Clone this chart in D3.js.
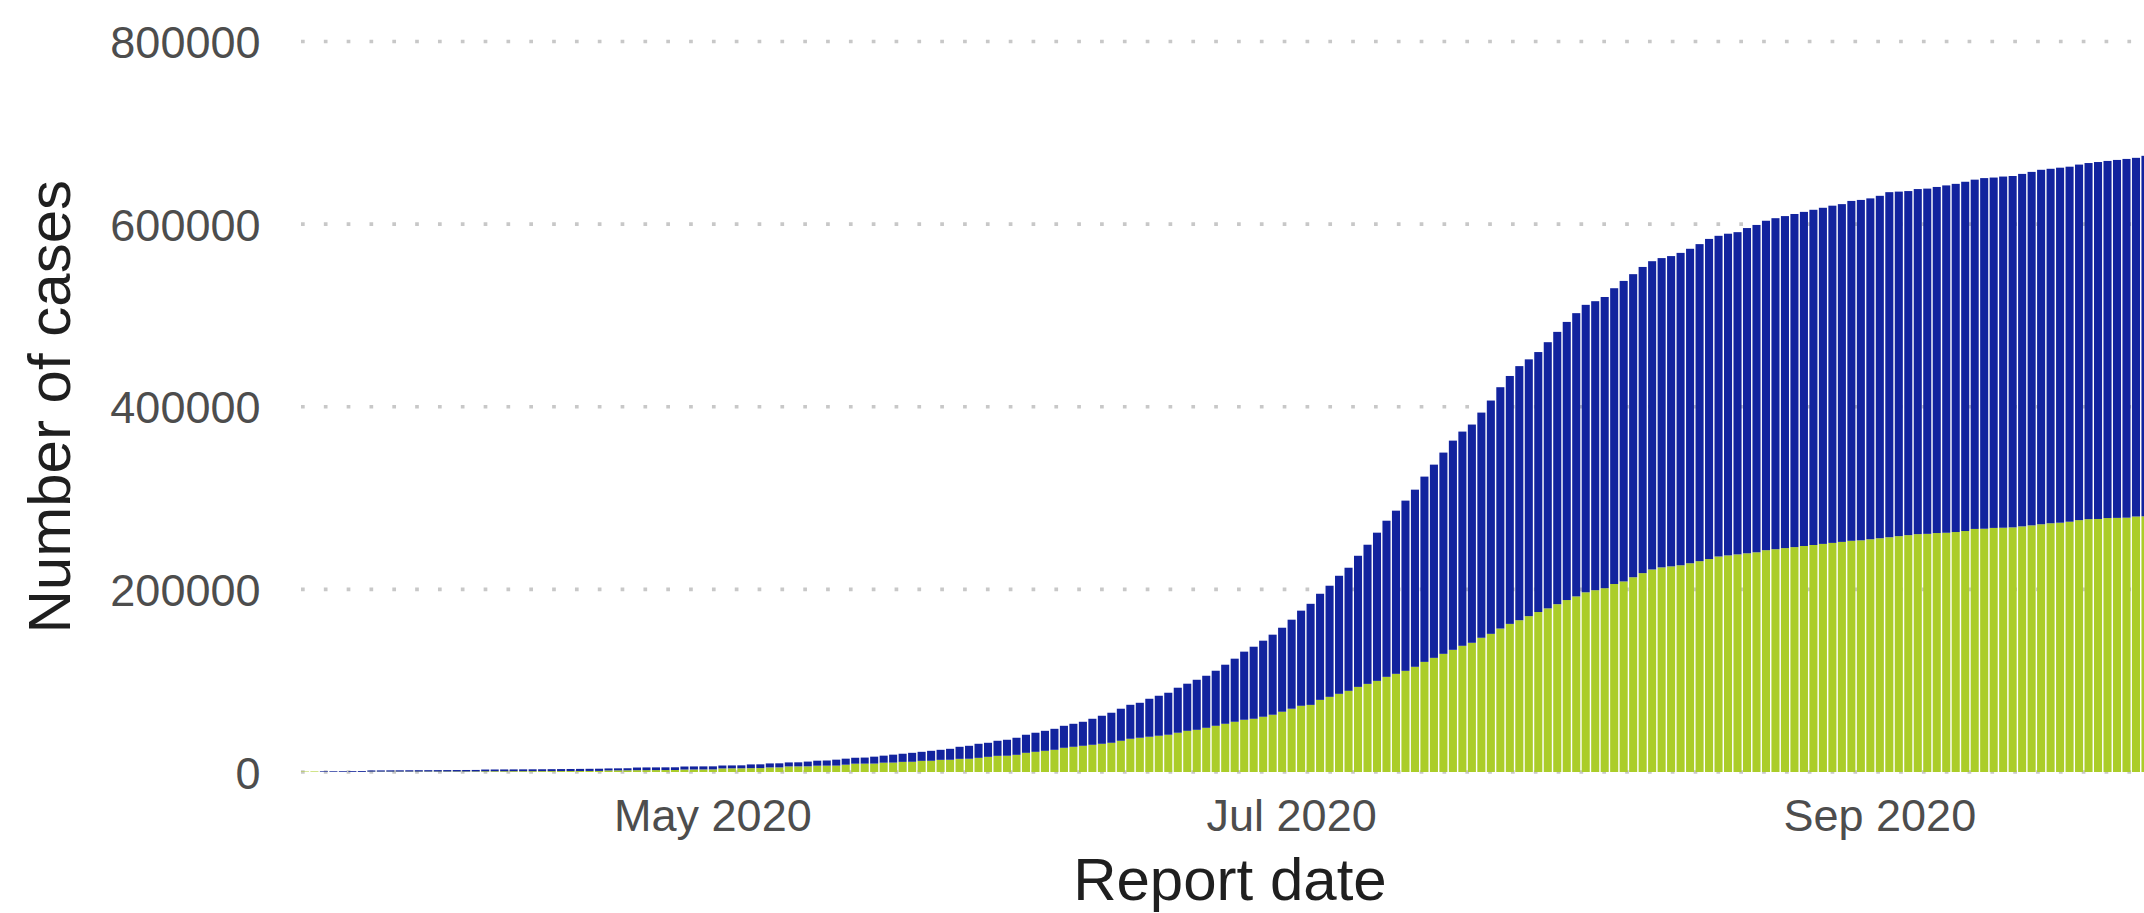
<!DOCTYPE html>
<html>
<head>
<meta charset="utf-8">
<script src="https://cdn.jsdelivr.net/npm/d3@7"></script>
<style>
  body { margin: 0; background: #ffffff; }
  svg { display: block; font-family: "Liberation Sans", Arial, sans-serif; }
</style>
</head>
<body>
<div id="chart"></div>
<script>
// report dates: one bar per day, 19 Mar 2020 .. 30 Sep 2020
const firstDay = "2020-03-19";
const lastDay = "2020-09-30";

// cumulative total cases (top of each stacked bar)
const totalCases = [
  500, 600, 800, 850, 900, 1000, 1100, 1700, 1750, 1800,
  1850, 1900, 1950, 2000, 2050, 2100, 2150, 2200, 2250, 2700,
  2750, 2800, 2850, 2900, 2950, 3000, 3100, 3200, 3300, 3400,
  3500, 3600, 3900, 4000, 4100, 4900, 5000, 5050, 5100, 5150,
  6000, 6100, 6150, 6200, 7100, 7200, 7300, 8300, 8400, 9400,
  9500, 10500, 10600, 11400, 12400, 12600, 13500, 14600, 15600, 15800,
  16800, 17900, 19000, 20000, 21000, 22100, 23200, 24300, 25400, 27600,
  28700, 30900, 32000, 34200, 35300, 37500, 40800, 43000, 45100, 47300,
  50600, 52800, 55000, 58300, 61600, 64900, 69300, 73600, 75800, 80200,
  83500, 86800, 92300, 96700, 101000, 105400, 110900, 117500, 124100, 131800,
  137200, 143800, 150400, 158000, 166800, 176700, 184200, 195200, 204000, 214900,
  223700, 236800, 248900, 262100, 275200, 286200, 297200, 309200, 323500, 336600,
  349800, 362900, 372800, 380500, 393600, 406800, 421400, 433700, 444500, 451900,
  459900, 470700, 482000, 492900, 502500, 511600, 515600, 520200, 529800, 537800,
  545200, 553100, 559400, 562800, 565000, 568500, 573000, 578100, 583800, 587200,
  589500, 591200, 595700, 599100, 603700, 606500, 608800, 611100, 613400, 615700,
  617900, 620200, 621900, 625400, 626500, 628200, 631000, 635000, 635600, 636200,
  638400, 638900, 640700, 642400, 644100, 646400, 648700, 650400, 651000, 652100,
  652700, 655000, 657200, 659500, 660600, 661800, 662900, 665200, 666900, 668000,
  669200, 670300, 671400, 672600, 674800, 676000
];

// lower (green) part of each bar
const greenCases = [
  500, 600, 100, 100, 100, 120, 150, 400, 420, 440,
  460, 480, 500, 520, 540, 560, 580, 600, 620, 800,
  830, 860, 890, 920, 950, 980, 1010, 1040, 1070, 1100,
  1150, 1200, 1700, 1800, 1850, 2000, 2050, 2100, 2150, 2200,
  2700, 2750, 2800, 2850, 3900, 4000, 4050, 4200, 4300, 5000,
  5050, 6100, 6150, 6200, 6900, 6950, 7000, 8000, 9100, 9150,
  9200, 10200, 10300, 11100, 11200, 12200, 12300, 13300, 13400, 14400,
  14500, 15500, 16600, 17700, 17800, 18800, 21000, 22100, 23200, 24300,
  26500, 27600, 28700, 29800, 30900, 32000, 34200, 36400, 37500, 38600,
  39700, 40800, 43000, 45100, 46200, 48400, 50600, 52800, 55000, 57200,
  58300, 60500, 62700, 66000, 69300, 72500, 73500, 79000, 82300, 85600,
  88900, 93200, 96500, 99800, 104200, 107500, 110800, 115200, 120600, 125000,
  129400, 133800, 138200, 141500, 147000, 151300, 157100, 162200, 166200, 170700,
  175200, 179200, 183800, 188300, 192300, 196800, 199100, 201300, 205900, 208700,
  213300, 217800, 221800, 224100, 225200, 226400, 228600, 230900, 233200, 236000,
  237200, 238300, 239500, 240600, 242900, 244000, 245200, 246300, 247500, 248600,
  249800, 250900, 252000, 253200, 253700, 254900, 256000, 257100, 258300, 259400,
  260500, 260800, 261700, 262000, 262800, 263900, 266200, 266400, 267300, 267500,
  267900, 269000, 270100, 271300, 272400, 273000, 274100, 275800, 276900, 277100,
  278100, 278300, 278500, 279800, 280000, 281000
];

const yTicks = [0, 200000, 400000, 600000, 800000];
const xTickDates = ["2020-05-01", "2020-07-01", "2020-09-01"];

const parseDay = d3.timeParse("%Y-%m-%d");
const fmtDay = d3.timeFormat("%Y-%m-%d");
const fmtMonth = d3.timeFormat("%b %Y");

const days = d3.timeDay.range(parseDay(firstDay), d3.timeDay.offset(parseDay(lastDay), 1)).map(fmtDay);

const rows = days.map((d, i) => ({
  day: d,
  green: greenCases[i],
  blue: totalCases[i] - greenCases[i]
}));

const width = 2144;
const height = 913;
const panel = { left: 300.2, right: 2159.7, top: 41.5, bottom: 772 };

const svg = d3.select("#chart").append("svg")
  .attr("width", width)
  .attr("height", height);

svg.append("rect").attr("width", width).attr("height", height).attr("fill", "#ffffff");

const x = d3.scaleBand()
  .domain(days)
  .range([panel.left, panel.right])
  .paddingInner(0.15)
  .paddingOuter(0.075);

const y = d3.scaleLinear()
  .domain([0, 800000])
  .range([panel.bottom, panel.top]);

// dotted horizontal grid
svg.append("g")
  .selectAll("line")
  .data(yTicks)
  .enter().append("line")
  .attr("x1", 301)
  .attr("x2", panel.right)
  .attr("y1", d => y(d))
  .attr("y2", d => y(d))
  .attr("stroke", "#c8c8c8")
  .attr("stroke-width", 3.7)
  .attr("stroke-dasharray", "3.7 19.13");

// stacked bars
const stacked = d3.stack().keys(["green", "blue"])(rows);
const colors = { green: "#abcd29", blue: "#12239e" };

svg.append("g")
  .selectAll("g")
  .data(stacked)
  .enter().append("g")
  .attr("fill", s => colors[s.key])
  .selectAll("rect")
  .data(s => s)
  .enter().append("rect")
  .attr("x", d => x(d.data.day))
  .attr("y", d => y(d[1]))
  .attr("width", x.bandwidth())
  .attr("height", d => y(d[0]) - y(d[1]));

// axes
const yAxis = svg.append("g")
  .attr("transform", "translate(301,0)")
  .call(d3.axisLeft(y).tickValues(yTicks).tickSize(0).tickPadding(40.5).tickFormat(d3.format("d")));
yAxis.select(".domain").remove();
yAxis.selectAll("text")
  .attr("dy", "0.36em")
  .attr("fill", "#4d4d4d")
  .style("font-size", "45px")
  .style("font-family", "'Liberation Sans', Arial, sans-serif");

const xAxis = svg.append("g")
  .attr("transform", `translate(0,${panel.bottom})`)
  .call(d3.axisBottom(x).tickValues(xTickDates).tickSize(0).tickFormat(d => fmtMonth(parseDay(d))));
xAxis.select(".domain").remove();
xAxis.selectAll("text")
  .attr("y", 0)
  .attr("dy", 0)
  .attr("transform", "translate(0,59)")
  .attr("fill", "#4d4d4d")
  .style("font-size", "45px")
  .style("font-family", "'Liberation Sans', Arial, sans-serif");

// axis titles
svg.append("text")
  .attr("x", (panel.left + panel.right) / 2)
  .attr("y", 899.5)
  .attr("text-anchor", "middle")
  .attr("fill", "#1f1f1f")
  .style("font-size", "60px")
  .text("Report date");

svg.append("text")
  .attr("transform", `translate(70,${(panel.top + panel.bottom) / 2}) rotate(-90)`)
  .attr("text-anchor", "middle")
  .attr("fill", "#1f1f1f")
  .style("font-size", "60px")
  .text("Number of cases");
</script>
</body>
</html>
